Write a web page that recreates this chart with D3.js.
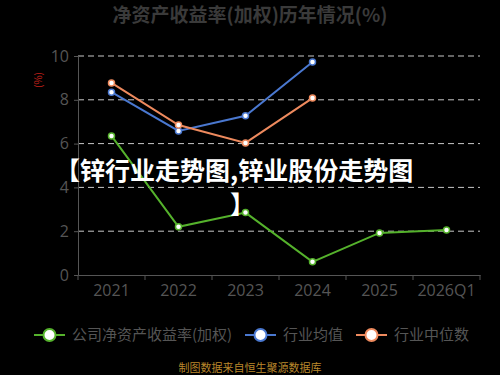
<!DOCTYPE html>
<html>
<head>
<meta charset="utf-8">
<script src="https://cdn.jsdelivr.net/npm/d3@7"></script>
<style>
body{margin:0;background:#000;}
svg{display:block;font-family:"Noto Sans CJK SC","Noto Sans",sans-serif;}
</style>
</head>
<body>
<div id="chart"></div>
<script>
var years = ["2021","2022","2023","2024","2025","2026Q1"];
var company = [6.35, 2.2, 2.85, 0.6, 1.92, 2.05];
var indAvg = [8.35, 6.58, 7.27, 9.73];
var indMed = [8.77, 6.85, 6.03, 8.08];
var yTicks = [0,2,4,6,8,10];
var seriesNames = ["公司净资产收益率(加权)","行业均值","行业中位数"];
var colors = ["#55b22c","#4a78d0","#ee8a5e"];

var width = 500, height = 375;
var margin = {top:56, right:20, bottom:100, left:78};
var w = width - margin.left - margin.right,
    h = height - margin.top - margin.bottom;

var svg = d3.select("#chart").append("svg")
    .attr("width", width).attr("height", height);
svg.append("rect").attr("width", width).attr("height", height).attr("fill","#000");

svg.append("text")
    .attr("x", 250).attr("y", 22)
    .attr("text-anchor","middle")
    .attr("fill","#3a3a3a")
    .style("font-size","19px").style("font-weight","bold")
    .text("净资产收益率(加权)历年情况(%)");

var g = svg.append("g").attr("transform","translate("+margin.left+","+margin.top+")");

var x = d3.scaleBand().domain(years).range([0,w]);
var y = d3.scaleLinear().domain([0,10]).range([h,0]);

// grid
g.selectAll("line.grid").data(yTicks.filter(function(d){return d>0;}))
    .enter().append("line")
    .attr("class","grid")
    .attr("x1",0).attr("x2",w)
    .attr("y1",function(d){return y(d);}).attr("y2",function(d){return y(d);})
    .attr("stroke","#c8c8c8").attr("stroke-width",1)
    .attr("stroke-dasharray","6,4");

// y axis
var yAxis = g.append("g").call(d3.axisLeft(y).tickValues(yTicks).tickSize(4).tickPadding(5));
yAxis.select(".domain").attr("stroke","#555");
yAxis.selectAll(".tick line").attr("stroke","#555");
yAxis.selectAll("text").attr("fill","#555").style("font-size","16px")
    .style("font-family","'Open Sans',sans-serif");

// x axis
var xAxis = g.append("g").attr("transform","translate(0,"+h+")")
    .call(d3.axisBottom(x).tickSize(0).tickPadding(10));
xAxis.select(".domain").attr("stroke","#555");
xAxis.selectAll("text").attr("fill","#555").style("font-size","16px")
    .style("font-family","'Open Sans',sans-serif");
g.append("g").selectAll("line").data(years.concat(["end"]))
    .enter().append("line")
    .attr("x1",function(d,i){return i*x.step();}).attr("x2",function(d,i){return i*x.step();})
    .attr("y1",h).attr("y2",h+5).attr("stroke","#555");

svg.append("text")
    .attr("transform","translate(42,80) rotate(-90)")
    .attr("text-anchor","middle")
    .attr("fill","#c0201a")
    .style("font-size","10px")
    .text("(%)");

var line = d3.line()
    .x(function(d,i){return x(years[i]) + x.bandwidth()/2;})
    .y(function(d){return y(d);});

[company, indAvg, indMed].forEach(function(s, k){
    g.append("path").datum(s)
        .attr("d", line)
        .attr("fill","none")
        .attr("stroke", colors[k])
        .attr("stroke-width", 2);
    g.selectAll(null).data(s).enter().append("circle")
        .attr("cx",function(d,i){return x(years[i]) + x.bandwidth()/2;})
        .attr("cy",function(d){return y(d);})
        .attr("r",3)
        .attr("fill","#fff")
        .attr("stroke",colors[k])
        .attr("stroke-width",1.5);
});

// overlay title text, two lines
svg.append("text")
    .attr("x",55).attr("y",180)
    .attr("fill","#fff")
    .style("font-size","25px").style("font-weight","bold")
    .text("【锌行业走势图,锌业股份走势图");
svg.append("text")
    .attr("x",230).attr("y",214)
    .attr("fill","#fff")
    .style("font-size","25px").style("font-weight","bold")
    .text("】");

// legend
var legX = [34, 245, 356];
var leg = svg.append("g").selectAll("g").data(seriesNames).enter().append("g")
    .attr("transform",function(d,i){return "translate("+legX[i]+",335)";});
leg.append("line").attr("x1",0).attr("x2",31).attr("y1",0).attr("y2",0)
    .attr("stroke",function(d,i){return colors[i];}).attr("stroke-width",2);
leg.append("circle").attr("cx",15.5).attr("cy",0).attr("r",6)
    .attr("fill","#fff")
    .attr("stroke",function(d,i){return colors[i];}).attr("stroke-width",2);
leg.append("text").attr("x",38).attr("y",5)
    .attr("fill","#555").style("font-size","15px")
    .text(function(d){return d;});

svg.append("text")
    .attr("x",250).attr("y",372)
    .attr("text-anchor","middle")
    .attr("fill","#b8862b")
    .style("font-size","11px")
    .text("制图数据来自恒生聚源数据库");
</script>
</body>
</html>
